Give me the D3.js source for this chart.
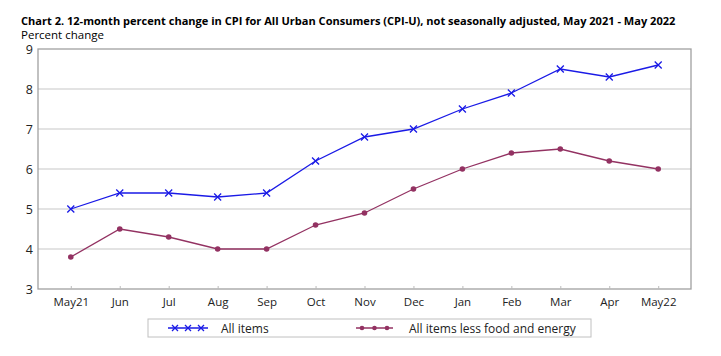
<!DOCTYPE html>
<html><head><meta charset="utf-8">
<script src="https://cdn.jsdelivr.net/npm/d3@7"></script>
<style>body{margin:0;background:#fff;} text{font-family:"Open Sans","DejaVu Sans",sans-serif;}</style>
</head><body><svg id="c" width="721" height="356"></svg>
<script>
const months = ["May21","Jun","Jul","Aug","Sep","Oct","Nov","Dec","Jan","Feb","Mar","Apr","May22"];
const allItems = [5.0,5.4,5.4,5.3,5.4,6.2,6.8,7.0,7.5,7.9,8.5,8.3,8.6];
const coreItems = [3.8,4.5,4.3,4.0,4.0,4.6,4.9,5.5,6.0,6.4,6.5,6.2,6.0];
const yTicks = [3,4,5,6,7,8,9];
const seriesNames = ["All items","All items less food and energy"];

const svg = d3.select("#c");
const L=38, R=691, T=49, B=289;
const x = d3.scalePoint().domain(months).range([L,R]).padding(0.67);
const y = d3.scaleLinear().domain([3,9]).range([B,T]);

function fitText(sel, target, size){
  sel.attr("font-size", size);
  const w = sel.node().getComputedTextLength();
  sel.attr("font-size", (size*target/w).toFixed(2));
}
const title = svg.append("text").attr("x",21).attr("y",25).attr("font-weight","bold")
  .attr("font-family","Lato, 'Open Sans', sans-serif")
  .text("Chart 2. 12-month percent change in CPI for All Urban Consumers (CPI-U), not seasonally adjusted, May 2021 - May 2022");
fitText(title, 655, 12);
const pc = svg.append("text").attr("x",21).attr("y",38.5).attr("font-family","Lato, 'Open Sans', sans-serif").text("Percent change");
fitText(pc, 83, 12);

// gridlines
svg.append("g").selectAll("line").data(yTicks.slice(1,-1)).join("line")
  .attr("x1",L).attr("x2",R).attr("y1",d=>y(d)).attr("y2",d=>y(d))
  .attr("stroke","#c8c8c8").attr("stroke-width",1.2);
// frame
svg.append("rect").attr("x",L).attr("y",T).attr("width",R-L).attr("height",B-T)
  .attr("fill","none").attr("stroke","#a0a0a0").attr("stroke-width",1.3);

// y axis
const ya = svg.append("g").attr("transform",`translate(${L},0)`)
  .call(d3.axisLeft(y).tickValues(yTicks).tickSize(0).tickPadding(5).tickFormat(d3.format("d")));
ya.select(".domain").remove();
ya.selectAll("text").attr("font-size",12.5).attr("fill","#222").attr("font-family","Lato,'Open Sans',sans-serif");

// x axis
const xa = svg.append("g").attr("transform",`translate(0,${B})`)
  .call(d3.axisBottom(x).tickSize(-3).tickPadding(9));
xa.select(".domain").remove();
xa.selectAll("line").attr("stroke","#bbb");
xa.selectAll("text").attr("font-size",11.5).attr("fill","#222").attr("font-family","'Open Sans',sans-serif");

const blue="#1a1ae6", maroon="#933262";
const line = d3.line().x((d,i)=>x(months[i])).y(d=>y(d));
svg.append("path").datum(allItems).attr("d",line).attr("fill","none").attr("stroke",blue).attr("stroke-width",1.3);
svg.append("path").datum(coreItems).attr("d",line).attr("fill","none").attr("stroke",maroon).attr("stroke-width",1.3);

function xMark(g,cx,cy,s){
  g.append("path").attr("d",`M${cx-s},${cy-s}L${cx+s},${cy+s}M${cx-s},${cy+s}L${cx+s},${cy-s}`)
   .attr("stroke",blue).attr("stroke-width",1.3);
}
const gA = svg.append("g");
allItems.forEach((d,i)=>xMark(gA,x(months[i]),y(d),3.5));
svg.append("g").selectAll("circle").data(coreItems).join("circle")
  .attr("cx",(d,i)=>x(months[i])).attr("cy",d=>y(d)).attr("r",2.8).attr("fill",maroon);

// legend
const lg = svg.append("g");
lg.append("rect").attr("x",148).attr("y",319).attr("width",443).attr("height",18)
  .attr("fill","#fff").attr("stroke","#c0c0c0").attr("stroke-width",1);
const ly=328;
lg.append("line").attr("x1",168).attr("x2",208).attr("y1",ly).attr("y2",ly).attr("stroke",blue).attr("stroke-width",1.3);
[175,188,201].forEach(cx=>xMark(lg,cx,ly,3));
lg.append("text").attr("x",221).attr("y",ly+4.5).attr("font-size",12).attr("fill","#222").text(seriesNames[0]);
lg.append("line").attr("x1",356).attr("x2",393).attr("y1",ly).attr("y2",ly).attr("stroke",maroon).attr("stroke-width",1.3);
[362,374.5,387].forEach(cx=>lg.append("circle").attr("cx",cx).attr("cy",ly).attr("r",2.3).attr("fill",maroon));
lg.append("text").attr("x",409).attr("y",ly+4.5).attr("font-size",12).attr("fill","#222").text(seriesNames[1]);
</script></body></html>
